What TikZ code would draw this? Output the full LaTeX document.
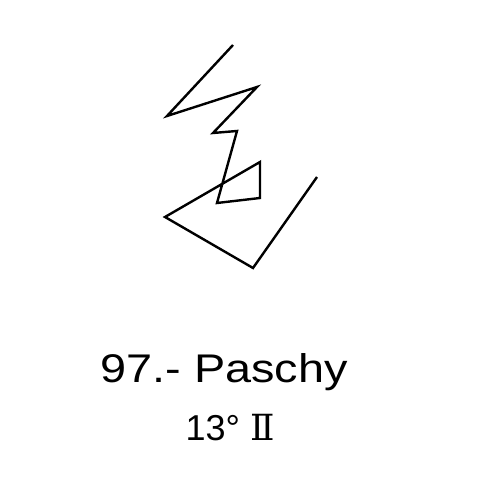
\documentclass[tikz,border=0pt]{standalone}
\usepackage{fontspec}
\setmainfont{Liberation Sans}
\newfontfamily\romfont{DejaVu Serif}
\begin{document}
\begin{tikzpicture}[x=1pt,y=1pt,
  glyph/.style={line width=2.4pt,line join=miter,line cap=butt,black},
  lbl/.style={inner sep=0pt,anchor=base west}]
\useasboundingbox[fill=white] (0,0) rectangle (500,500);
\draw[glyph] (233,455) -- (167,384) -- (257,413) -- (213,367) -- (237,369)
  -- (217,297) -- (260,302) -- (260,338) -- (165,283) -- (253,232) -- (317,323);
\node[lbl,font=\fontsize{40}{40}\selectfont,xscale=1.17] (t1) at (100.5,117) {97.- Paschy};
\node[lbl,font=\fontsize{36}{36}\selectfont] (t2) at (185.5,59) {13° {\romfont Ⅱ}};
\end{tikzpicture}
\end{document}
